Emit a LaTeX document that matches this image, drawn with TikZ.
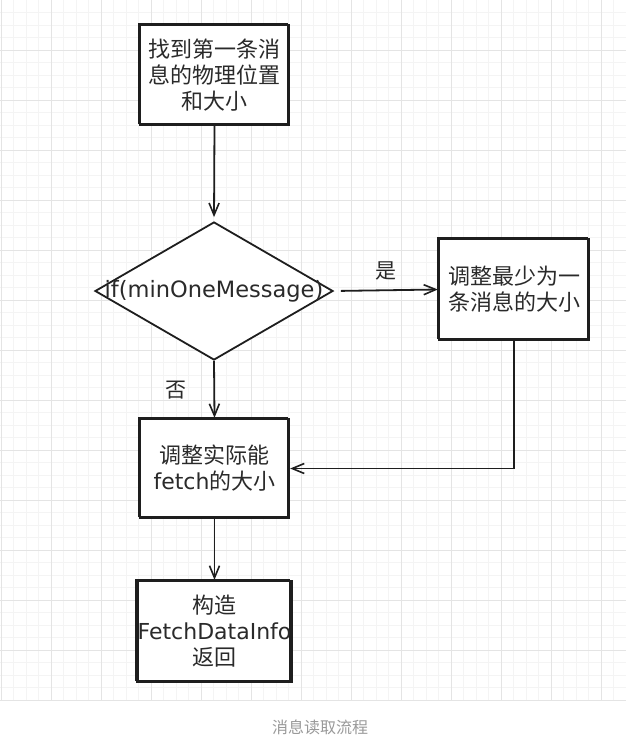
\documentclass[tikz,border=0pt]{standalone}
\usepackage{fontspec}
\setmainfont{Noto Sans CJK SC}
\newfontfamily\lat{DejaVu Sans}
\usetikzlibrary{shapes.geometric,arrows.meta}
\definecolor{gmajor}{HTML}{E4E4E4}
\definecolor{gminor}{HTML}{F4F4F4}
\definecolor{capgray}{HTML}{999999}
\definecolor{ink}{HTML}{1E1E1E}
\definecolor{txt}{HTML}{2A2A2A}
\tikzset{
  sk/.style={draw=ink, line width=2.4pt, fill=white, inner sep=0pt,
    minimum width=149pt, minimum height=100pt, align=center, text=txt,
    font=\fontsize{22}{26}\selectfont,
    postaction={draw=ink, line width=1pt, transform canvas={xshift=-1.6pt,yshift=1.6pt}}},
  dia/.style={diamond, draw=ink, line width=1.8pt, fill=white, inner sep=0pt,
    minimum width=238pt, minimum height=138pt, text=txt,
    font=\lat\fontsize{22.5}{26}\selectfont},
  conn/.style={draw=ink, line width=1.8pt, -{Straight Barb[length=12pt,width=10pt,line width=1.6pt]}},
  lab/.style={font=\fontsize{21}{24}\selectfont, text=txt}
}
\begin{document}
\begin{tikzpicture}[x=1pt,y=-1pt]
\useasboundingbox (0,0) rectangle (626,748);
\fill[white] (0,0) rectangle (626,748);
% grid
\foreach \i in {0,...,50} {
  \draw[gminor, line width=0.8pt] ({1+12.5*\i},0) -- ({1+12.5*\i},700);
}
\foreach \j in {1,...,55} {
  \draw[gminor, line width=0.8pt] (0,{12.5*\j}) -- (626,{12.5*\j});
}
\foreach \i in {0,...,12} {
  \draw[gmajor, line width=1pt] ({1+50*\i},0) -- ({1+50*\i},700);
}
\foreach \j in {1,...,14} {
  \draw[gmajor, line width=1pt] (0,{50*\j}) -- (626,{50*\j});
}
% nodes
\node[sk] (b1) at (214.5,75) {找到第一条消\\息的物理位置\\和大小};
\node[dia] (d) at (214,291) {\makebox[0pt]{if(minOneMessage)}};
\node[sk, minimum width=150pt, minimum height=101pt] (b2) at (514,289.5) {调整最少为一\\条消息的大小};
\node[sk, minimum height=99pt] (b3) at (214.5,468.5) {调整实际能\\{\lat fetch}的大小};
\node[sk, minimum height=101pt] (b4) at (214.5,631.5) {构造\\{\lat FetchDataInfo}\\返回};
% connectors
\draw[conn, shorten >=4pt] (b1.south) -- (d.north);
\draw[conn, shorten <=7pt] (d.east) -- node[lab, above=6pt] (yes) {是} (b2.west);
\draw[conn] (d.south) -- (b3.north);
\node[lab] (no) at (176,390) {否};
\draw[conn] (b2.south) |- (b3.east);
\draw[conn] (b3.south) -- (b4.north);
% caption
\node[font=\fontsize{16}{18}\selectfont, text=capgray] (cap) at (320,727) {消息读取流程};
\end{tikzpicture}
\end{document}
